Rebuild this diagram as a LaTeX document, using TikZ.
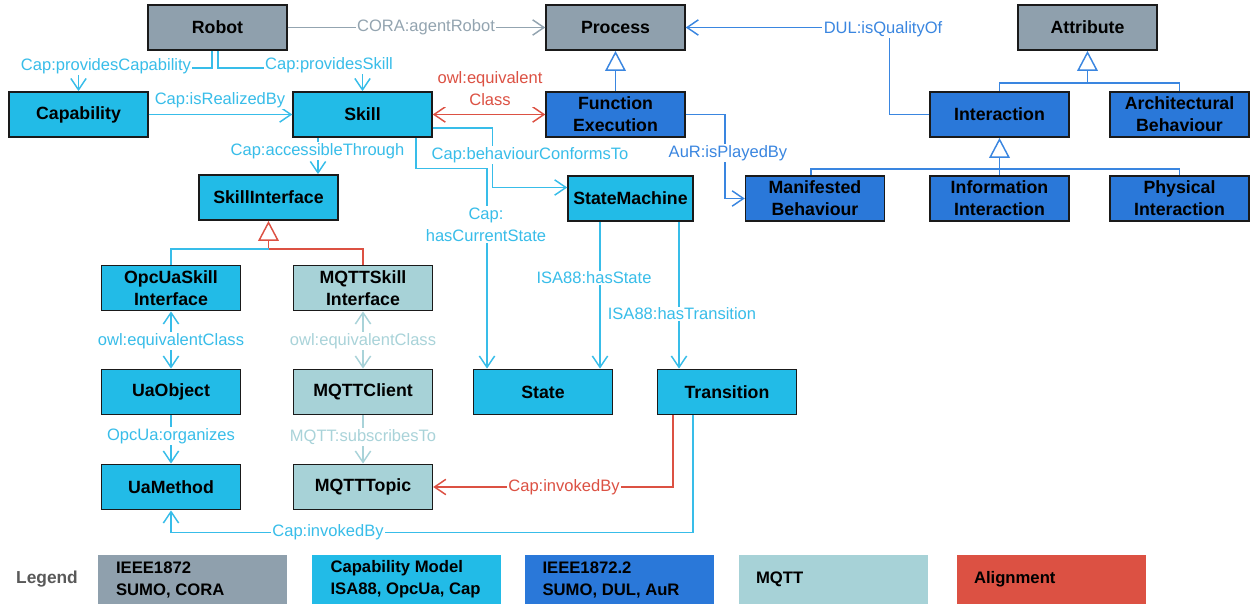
\documentclass[tikz,border=0pt]{standalone}
\usepackage{fontspec}
\setmainfont{Liberation Sans}
\usetikzlibrary{arrows.meta,calc}
\definecolor{cgray}{HTML}{8FA0AD}
\definecolor{ccap}{HTML}{22BBE7}
\definecolor{cblue}{HTML}{2A78D9}
\definecolor{cmqtt}{HTML}{A7D2D7}
\definecolor{cred}{HTML}{DC5143}
\definecolor{lgray}{HTML}{93A4B0}
\definecolor{lcap}{HTML}{38BDE9}
\definecolor{lblue}{HTML}{3A86E0}
\definecolor{lmqtt}{HTML}{A9D3D9}
\definecolor{bline}{HTML}{1A1A1A}
\definecolor{legtxt}{HTML}{595959}
\begin{document}
\begin{tikzpicture}[x=0.75pt,y=-0.75pt,
  box/.style={draw=bline, line width=1.1pt, minimum width=104.25pt, minimum height=34pt, inner sep=0pt, align=center, font=\fontsize{13.3}{16.5}\selectfont\bfseries},
  gbox/.style={box, fill=cgray},
  cbox/.style={box, fill=ccap},
  bbox/.style={box, fill=cblue},
  mbox/.style={box, fill=cmqtt},
  lab/.style={fill=white, inner sep=1pt, align=center, font=\fontsize{12.4}{16.5}\selectfont},
  conn/.style={line width=1.1pt},
  grl/.style={conn, draw=lgray},
  cpl/.style={conn, draw=lcap},
  bll/.style={conn, draw=lblue},
  mql/.style={conn, draw=lmqtt},
  rdl/.style={conn, draw=cred},
  va/.style={-{Straight Barb[length=8.5pt,width=11.5pt]}},
  dva/.style={{Straight Barb[length=8.5pt,width=11.5pt]}-{Straight Barb[length=8.5pt,width=11.5pt]}},
  inh/.style={-{Triangle[open,length=15pt,width=15.5pt]}},
  legbox/.style={inner sep=0pt, minimum width=141.75pt, minimum height=36.75pt},
  legtext/.style={anchor=west, inner sep=0pt, align=left, font=\fontsize{12.5}{16.5}\selectfont\bfseries}
]
\useasboundingbox (0,0) rectangle (1253,606);

% nodes
\node[gbox] (Robot) at (217.5,27.5) {Robot};
\node[gbox] (Process) at (615.5,27.5) {Process};
\node[gbox] (Attribute) at (1087.5,27.5) {Attribute};
\node[cbox] (Capability) at (78.5,114.5) {Capability};
\node[cbox] (Skill) at (362.5,114.5) {Skill};
\node[bbox] (FE) at (615.5,114.5) {Function\\Execution};
\node[bbox] (Interaction) at (999.5,114.5) {Interaction};
\node[bbox] (Arch) at (1179.5,114.5) {Architectural\\Behaviour};
\node[cbox] (SkillInterface) at (268.5,197.5) {SkillInterface};
\node[cbox, minimum width=93.75pt] (StateMachine) at (630.5,198.5) {StateMachine};
\node[bbox] (MB) at (815,198.5) {Manifested\\Behaviour};
\node[bbox] (InfoInt) at (999.5,198.5) {Information\\Interaction};
\node[bbox] (PhysInt) at (1179.5,198.5) {Physical\\Interaction};
\node[cbox] (OpcUa) at (171,288) {OpcUaSkill\\Interface};
\node[mbox] (MQTTSI) at (363,288) {MQTTSkill\\Interface};
\node[cbox] (UaObject) at (171,392) {UaObject};
\node[mbox] (MQTTClient) at (363,392) {MQTTClient};
\node[cbox] (UaMethod) at (171,487) {UaMethod};
\node[mbox] (MQTTTopic) at (363,487) {MQTTTopic};
\node[cbox] (State) at (543,392) {State};
\node[cbox] (Transition) at (727,392) {Transition};

% connectors
\draw[grl,va] (Robot.east) -- (Process.west);
\draw[cpl,va] ($(Robot.south)+(-5.5,0)$) |- ($(Capability.north)+(0,-23)$) -- (Capability.north);
\draw[cpl,va] ($(Robot.south)+(0.5,0)$) |- ($(Skill.north)+(0,-23)$) -- (Skill.north);
\draw[cpl,va] (Capability.east) -- (Skill.west);
\draw[rdl,dva] (Skill.east) -- (FE.west);
\draw[bll,inh] (FE.north) -- (Process.south);
\draw[cpl,va] ($(Skill.east)+(0,13.5)$) -| ($(StateMachine.west)+(-75,-11)$) -- ($(StateMachine.west)+(0,-11)$);
\draw[cpl,va] ($(Skill.south)+(53.5,0)$) |- ($(State.north)+(-56,-200)$) -- ($(State.north)+(-56,0)$);
\coordinate (sa) at ($(SkillInterface.north)+(49.5,0)$);
\draw[cpl,va] (Skill.south -| sa) -- (sa);
\coordinate (sj) at ($(SkillInterface.south)+(0,28)$);
\draw[rdl,inh] (sj) -- (SkillInterface.south);
\draw[cpl] (sj) -| (OpcUa.north);
\draw[rdl] (sj) -| (MQTTSI.north);
\draw[cpl,dva] (OpcUa.south) -- (UaObject.north);
\draw[mql,dva] (MQTTSI.south) -- (MQTTClient.north);
\draw[cpl,va] (UaObject.south) -- (UaMethod.north);
\draw[mql,va] (MQTTClient.south) -- (MQTTTopic.north);
\coordinate (hs) at ($(State.north)+(57,0)$);
\draw[cpl,va] (StateMachine.south -| hs) -- (hs);
\coordinate (ht) at ($(Transition.north)+(-48,0)$);
\draw[cpl,va] (StateMachine.south -| ht) -- (ht);
\draw[rdl,va] ($(Transition.south)+(-54,0)$) |- (MQTTTopic.east);
\draw[cpl,va] ($(Transition.south)+(-34,0)$) |- ($(UaMethod.south)+(0,22)$) -- (UaMethod.south);
\draw[bll,va] (FE.east) -| ($(MB.west)+(-20,0)$) -- (MB.west);
\draw[bll,va] (Interaction.west) -| ($(Process.east)+(204,0)$) -- (Process.east);
\coordinate (aj) at ($(Attribute.south)+(0,32)$);
\draw[bll,inh] (aj) -- (Attribute.south);
\draw[bll] (Interaction.north) |- (aj);
\draw[bll] (Arch.north) |- (aj);
\coordinate (ij) at ($(Interaction.south)+(0,31)$);
\draw[bll,inh] (ij) -- (Interaction.south);
\draw[bll] (InfoInt.north) -- (ij);
\draw[bll] ($(MB.north)+(-4,0)$) |- (ij);
\draw[bll] (PhysInt.north) |- (ij);

% labels
\node[lab, text=lgray] (l1) at (426,27.5) {CORA:agentRobot};
\node[lab, text=lcap] (l2) at (106,66) {Cap:providesCapability};
\node[lab, text=lcap] (l3) at (329,65) {Cap:providesSkill};
\node[lab, text=lcap] (l4) at (220,100) {Cap:isRealizedBy};
\node[lab, text=cred] (l5) at (490,89) {owl:equivalent\\Class};
\node[lab, text=lcap] (l6) at (317.5,151) {Cap:accessibleThrough};
\node[lab, text=lcap] (l7) at (530,155) {Cap:behaviourConformsTo};
\node[lab, text=lcap] (l8) at (486,224.5) {Cap:\\hasCurrentState};
\node[lab, text=lblue] (l9) at (728,153) {AuR:isPlayedBy};
\node[lab, text=lblue] (l10) at (883,29) {DUL:isQualityOf};
\node[lab, text=lcap] (l11) at (594,278) {ISA88:hasState};
\node[lab, text=lcap] (l12) at (682,314) {ISA88:hasTransition};
\node[lab, text=lcap] (l13) at (171,341) {owl:equivalentClass};
\node[lab, text=lmqtt] (l14) at (363,341) {owl:equivalentClass};
\node[lab, text=lcap] (l15) at (171,436) {OpcUa:organizes};
\node[lab, text=lmqtt] (l16) at (363,437) {MQTT:subscribesTo};
\node[lab, text=cred] (l17) at (564,487) {Cap:invokedBy};
\node[lab, text=lcap] (l18) at (328,532) {Cap:invokedBy};

% legend
\node[font=\fontsize{13}{15}\selectfont\bfseries, text=legtxt, inner sep=0pt] (leg) at (47,579.5) {Legend};
\node[legbox, fill=cgray] (lg1) at (192.5,579.5) {};
\node[legbox, fill=ccap] (lg2) at (406,579.5) {};
\node[legbox, fill=cblue] (lg3) at (619,579.5) {};
\node[legbox, fill=cmqtt] (lg4) at (833.5,579.5) {};
\node[legbox, fill=cred] (lg5) at (1051.5,579.5) {};
\node[legtext] (lt1) at ($(lg1.west)+(18,0)$) {IEEE1872\\SUMO, CORA};
\node[legtext] (lt2) at ($(lg2.west)+(19,0)$) {Capability Model\\ISA88, OpcUa, Cap};
\node[legtext] (lt3) at ($(lg3.west)+(18,0)$) {IEEE1872.2\\SUMO, DUL, AuR};
\node[legtext] (lt4) at ($(lg4.west)+(17,0)$) {MQTT};
\node[legtext] (lt5) at ($(lg5.west)+(17,0)$) {Alignment};
\end{tikzpicture}
\end{document}
